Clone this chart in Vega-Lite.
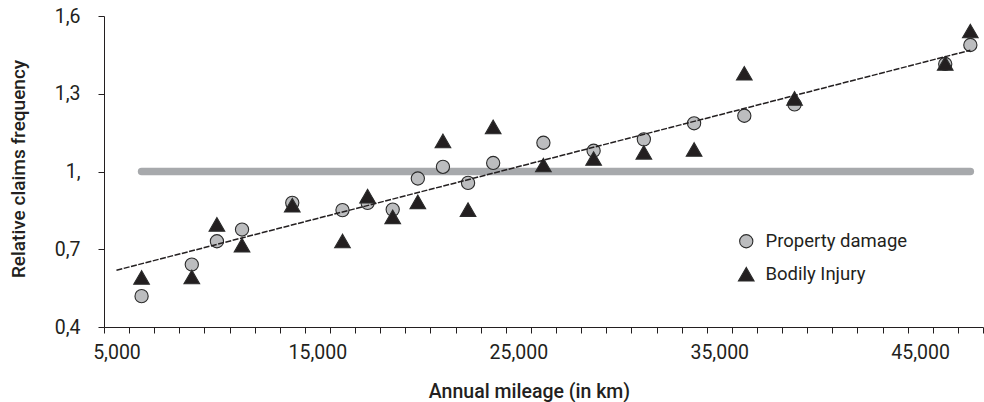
{
  "$schema": "https://vega.github.io/schema/vega-lite/v6.json",
  "autosize": "none",
  "width": 879,
  "height": 311,
  "padding": {"left": 104, "top": 16, "right": 1, "bottom": 75},
  "background": "white",
  "config": {
    "view": {"stroke": null},
    "font": "Roboto",
    "axis": {"grid": false, "domainColor": "#231f20", "tickColor": "#231f20", "labelColor": "#231f20", "titleColor": "#231f20", "labelFont": "Roboto", "titleFont": "Roboto"}
  },
  "datasets": {
    "points": [
      {"mileage": 6250, "freq": 0.519, "series": "Property damage"},
      {"mileage": 8750, "freq": 0.641, "series": "Property damage"},
      {"mileage": 10000, "freq": 0.731, "series": "Property damage"},
      {"mileage": 11250, "freq": 0.776, "series": "Property damage"},
      {"mileage": 13750, "freq": 0.879, "series": "Property damage"},
      {"mileage": 16250, "freq": 0.851, "series": "Property damage"},
      {"mileage": 17500, "freq": 0.879, "series": "Property damage"},
      {"mileage": 18750, "freq": 0.853, "series": "Property damage"},
      {"mileage": 20000, "freq": 0.973, "series": "Property damage"},
      {"mileage": 21250, "freq": 1.018, "series": "Property damage"},
      {"mileage": 22500, "freq": 0.956, "series": "Property damage"},
      {"mileage": 23750, "freq": 1.033, "series": "Property damage"},
      {"mileage": 26250, "freq": 1.111, "series": "Property damage"},
      {"mileage": 28750, "freq": 1.080, "series": "Property damage"},
      {"mileage": 31250, "freq": 1.124, "series": "Property damage"},
      {"mileage": 33750, "freq": 1.186, "series": "Property damage"},
      {"mileage": 36250, "freq": 1.215, "series": "Property damage"},
      {"mileage": 38750, "freq": 1.259, "series": "Property damage"},
      {"mileage": 46250, "freq": 1.415, "series": "Property damage"},
      {"mileage": 47500, "freq": 1.488, "series": "Property damage"},
      {"mileage": 6250, "freq": 0.591, "series": "Bodily Injury"},
      {"mileage": 8750, "freq": 0.593, "series": "Bodily Injury"},
      {"mileage": 10000, "freq": 0.796, "series": "Bodily Injury"},
      {"mileage": 11250, "freq": 0.716, "series": "Bodily Injury"},
      {"mileage": 13750, "freq": 0.870, "series": "Bodily Injury"},
      {"mileage": 16250, "freq": 0.732, "series": "Bodily Injury"},
      {"mileage": 17500, "freq": 0.905, "series": "Bodily Injury"},
      {"mileage": 18750, "freq": 0.825, "series": "Bodily Injury"},
      {"mileage": 20000, "freq": 0.883, "series": "Bodily Injury"},
      {"mileage": 21250, "freq": 1.118, "series": "Bodily Injury"},
      {"mileage": 22500, "freq": 0.853, "series": "Bodily Injury"},
      {"mileage": 23750, "freq": 1.172, "series": "Bodily Injury"},
      {"mileage": 26250, "freq": 1.025, "series": "Bodily Injury"},
      {"mileage": 28750, "freq": 1.050, "series": "Bodily Injury"},
      {"mileage": 31250, "freq": 1.074, "series": "Bodily Injury"},
      {"mileage": 33750, "freq": 1.085, "series": "Bodily Injury"},
      {"mileage": 36250, "freq": 1.379, "series": "Bodily Injury"},
      {"mileage": 38750, "freq": 1.282, "series": "Bodily Injury"},
      {"mileage": 46250, "freq": 1.417, "series": "Bodily Injury"},
      {"mileage": 47500, "freq": 1.542, "series": "Bodily Injury"}
    ],
    "trend": [
      {"mileage": 5000, "freq": 0.619},
      {"mileage": 47500, "freq": 1.468}
    ],
    "baseline": [
      {"mileage": 6250, "freq": 1.0},
      {"mileage": 47500, "freq": 1.0}
    ]
  },
  "encoding": {
    "x": {
      "field": "mileage", "type": "quantitative",
      "scale": {"domain": [4380, 48130], "nice": false, "zero": false},
      "axis": {
        "title": "Annual mileage (in km)",
        "values": [4380, 5630, 6880, 8130, 9380, 10630, 11880, 13130, 14380, 15630, 16880, 18130, 19380, 20630, 21880, 23130, 24380, 25630, 26880, 28130, 29380, 30630, 31880, 33130, 34380, 35630, 36880, 38130, 39380, 40630, 41880, 43130, 44380, 45630, 46880, 48130],
        "labelExpr": "(datum.value - 4380) % 10000 == 0 ? format(datum.value + 620, ',') : ''",
        "labelOffset": 12.5,
        "labelOverlap": false,
        "labelFlush": false,
        "labelBound": false,
        "labelFontSize": 19.5,
        "labelBaseline": "alphabetic",
        "labelPadding": 25,
        "tickSize": 6,
        "titleFontSize": 19.5,
        "titleFontWeight": 500,
        "titleX": 425,
        "titleY": 70,
        "titleBaseline": "alphabetic",
        "titleAlign": "center"
      }
    },
    "y": {
      "field": "freq", "type": "quantitative",
      "scale": {"domain": [0.4, 1.6], "nice": false, "zero": false},
      "axis": {
        "title": "Relative claims frequency",
        "values": [0.4, 0.7, 1.0, 1.3, 1.6],
        "labelExpr": "datum.value == 1 ? '1,' : replace(format(datum.value, '.1f'), '.', ',')",
        "labelFontSize": 19.5,
        "labelPadding": 18,
        "tickSize": 6,
        "titleFontSize": 19,
        "titleFontWeight": 500,
        "titleX": -86,
        "titleY": 152.5,
        "titleAngle": -90,
        "titleAlign": "center",
        "titleBaseline": "middle"
      }
    }
  },
  "layer": [
    {
      "data": {"name": "baseline"},
      "mark": {"type": "line", "color": "#a7a9ac", "strokeWidth": 7.5, "strokeCap": "round"}
    },
    {
      "data": {"name": "points"},
      "mark": {"type": "point", "filled": true, "opacity": 1, "stroke": "#2b2b2b", "strokeWidth": 1.1},
      "encoding": {
        "fill": {"field": "series", "type": "nominal", "scale": {"domain": ["Property damage", "Bodily Injury"], "range": ["#bcbdbf", "#231f20"]},
          "legend": {"title": null, "orient": "none", "legendX": 633, "legendY": 216, "padding": 0, "labelFontSize": 18.5, "labelFont": "Roboto", "labelColor": "#231f20", "labelOffset": 10, "rowPadding": 14, "symbolStrokeWidth": 1.1}},
        "shape": {"field": "series", "type": "nominal", "scale": {"domain": ["Property damage", "Bodily Injury"], "range": ["circle", "triangle-up"]}},
        "size": {"field": "series", "type": "nominal", "scale": {"domain": ["Property damage", "Bodily Injury"], "range": [175, 245]}}
      }
    },
    {
      "data": {"name": "trend"},
      "mark": {"type": "line", "color": "#231f20", "strokeWidth": 1.5, "strokeDash": [6, 1.5]}
    }
  ]
}
